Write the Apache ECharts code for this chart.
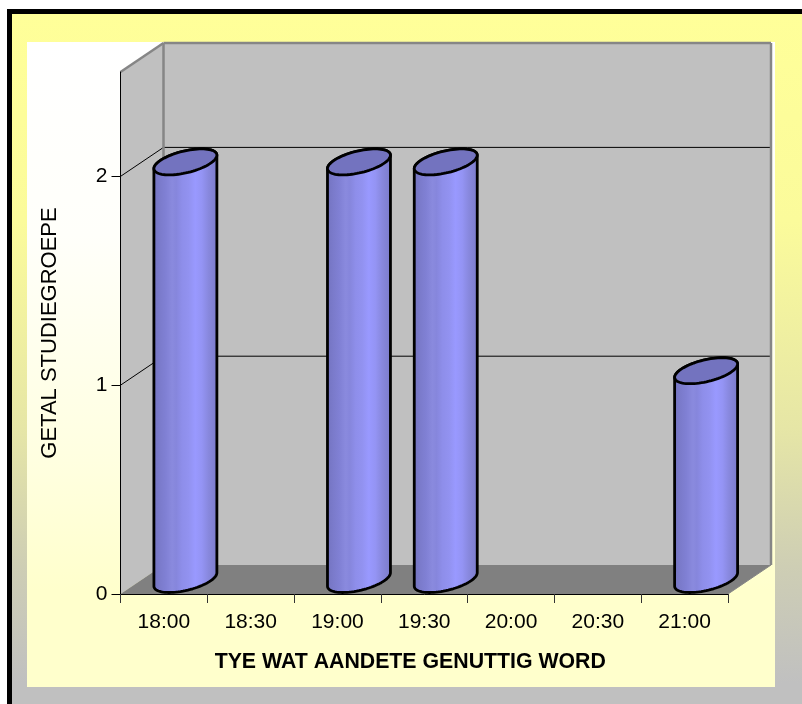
<!DOCTYPE html>
<html><head><meta charset="utf-8">
<style>html,body{margin:0;padding:0;background:#fff}#c{width:802px;height:704px}</style>
<script src="https://cdn.jsdelivr.net/npm/echarts@6/dist/echarts.min.js"></script>
</head><body><div id="c"></div>
<script>
const categories = ['18:00','18:30','19:00','19:30','20:00','20:30','21:00'];
const groupCounts = [2,0,2,2,0,0,1];
const yTicks = [0,1,2];
const yMax = 2.5;
const xTitle = 'TYE WAT AANDETE GENUTTIG WORD';
const yTitle = 'GETAL STUDIEGROEPE';

const DX = 43, DY = 29;          // 3D depth of the box
const HX = 27, EX = 16.2, EY = 13; // cylinder ellipse vectors
const font = '"Liberation Sans", Arial, sans-serif';
const T0 = Math.atan2(EX, HX);

function ell(cx, cy, t){ return [cx + HX*Math.cos(t) + EX*Math.sin(t), cy - EY*Math.sin(t)]; }

function renderBox(params, api){
  const cs = params.coordSys;
  const L = cs.x, R = cs.x + cs.width, T = cs.y, B = cs.y + cs.height;
  const kids = [];
  const poly = (pts, fill) => ({type:'polygon', shape:{points:pts}, style:{fill:fill, stroke:null}});
  const line = (a,b,c,w) => ({type:'line', shape:{x1:a[0],y1:a[1],x2:b[0],y2:b[1]}, style:{stroke:c,lineWidth:w,fill:null}});
  kids.push(poly([[L+DX,T-DY],[R+DX,T-DY],[R+DX,B-DY],[L+DX,B-DY]], '#C0C0C0'));
  kids.push(poly([[L,T],[L+DX,T-DY],[L+DX,B-DY],[L,B]], '#C0C0C0'));
  kids.push(poly([[L,B],[R,B],[R+DX,B-DY],[L+DX,B-DY]], '#808080'));
  yTicks.forEach(v => {
    if (v === 0) return;
    const y = api.coord([0, v])[1];
    kids.push(line([L,y],[L+DX,y-DY],'#000',1));
    kids.push(line([L+DX,y-DY],[R+DX,y-DY],'#000',1));
  });
  const g = '#868686';
  kids.push(line([L,T],[L+DX,T-DY],g,2.5));
  kids.push(line([L+DX,T-DY],[R+DX,T-DY],g,2.5));
  kids.push(line([L+DX,T-DY],[L+DX,B-DY],g,2.5));
  kids.push(line([R+DX,T-DY],[R+DX,B-DY],g,2.5));
  kids.push(line([R,B],[R+DX,B-DY],g,1));
  return {type:'group', children:kids};
}

function renderCyl(params, api){
  const v = api.value(1);
  if (!v) return {type:'group', children:[]};
  const top = api.coord([api.value(0), v]);
  const bot = api.coord([api.value(0), 0]);
  const cx = top[0] + DX/2, ct = top[1] - DY/2, cb = bot[1] - DY/2;
  const body = [], lid = [];
  const N = 40;
  for (let i=0;i<=N;i++){ body.push(ell(cx, ct, T0 + Math.PI*i/N)); }
  for (let i=0;i<=N;i++){ body.push(ell(cx, cb, T0 + Math.PI + Math.PI*i/N)); }
  for (let i=0;i<2*N;i++){ lid.push(ell(cx, ct, Math.PI*i/N)); }
  return {type:'group', children:[
    {type:'polygon', shape:{points:body}, style:{
      stroke:'#000', lineWidth:2.8, lineJoin:'round',
      fill:{type:'linear',x:0,y:0,x2:1,y2:0,colorStops:[
        {offset:0,color:'#7272BE'},{offset:.1,color:'#7A7ACA'},{offset:.2,color:'#8080D4'},{offset:.3,color:'#8A8ADE'},
        {offset:.36,color:'#8686DC'},{offset:.45,color:'#8E8EEA'},{offset:.55,color:'#9292F0'},
        {offset:.65,color:'#9999FF'},{offset:.75,color:'#9494F4'},{offset:.85,color:'#8888DE'},{offset:1,color:'#7A7AC8'}]}
    }},
    {type:'polygon', shape:{points:lid}, style:{fill:'#7373BF', stroke:'#000', lineWidth:2.8}}
  ]};
}

const chart = echarts.init(document.getElementById('c'), null, {renderer:'canvas'});
chart.setOption({
  animation:false,
  backgroundColor:'#fff',
  graphic:{elements:[
    {type:'rect', z:-10, silent:true, shape:{x:7,y:9,width:795,height:695}, style:{fill:'#000'}},
    {type:'rect', z:-9, silent:true, shape:{x:12,y:14,width:790,height:690}, style:{fill:{type:'linear',x:0,y:0,x2:0,y2:1,colorStops:[
      {offset:0,color:'#FFFF99'},{offset:.3,color:'#FBFB9B'},{offset:.6,color:'#E6E6A6'},{offset:.8,color:'#CECEB4'},{offset:.97,color:'#C0C0C0'},{offset:1,color:'#C0C0C0'}]}}},
    {type:'rect', z:-8, silent:true, shape:{x:27,y:42,width:748,height:645}, style:{fill:{type:'linear',x:0,y:0,x2:0,y2:1,colorStops:[
      {offset:0,color:'#FFFFFF'},{offset:.3,color:'#FFFFFA'},{offset:.65,color:'#FFFFE0'},{offset:.85,color:'#FFFFCC'},{offset:1,color:'#FFFFCC'}]}}}
  ]},
  grid:{left:120.5, top:72, width:607.5, height:522, containLabel:false},
  xAxis:{type:'category', data:categories, z:10,
    boundaryGap:true,
    axisLine:{lineStyle:{color:'#000',width:1}},
    axisTick:{show:true, alignWithLabel:false, length:9, lineStyle:{color:'#333',width:1}},
    axisLabel:{color:'#000', fontFamily:font, fontSize:21, margin:18, interval:0},
    name:xTitle, nameLocation:'middle', nameGap:58,
    nameTextStyle:{color:'#000', fontFamily:font, fontSize:21.3, fontWeight:'bold', padding:[0,28,0,0]}},
  yAxis:{type:'value', min:0, max:yMax, interval:1, z:10,
    axisLine:{show:true, lineStyle:{color:'#000',width:1}},
    axisTick:{show:true, length:9, customValues:yTicks, lineStyle:{color:'#000',width:1}},
    axisLabel:{color:'#000', fontFamily:font, fontSize:21, margin:13, customValues:yTicks, padding:[4,0,0,0]},
    splitLine:{show:false},
    name:yTitle, nameLocation:'middle', nameGap:60, nameRotate:90,
    nameTextStyle:{color:'#000', fontFamily:font, fontSize:22}},
  tooltip:{show:false}, legend:{show:false},
  series:[
    {type:'custom', z:1, silent:true, clip:false, data:[[0,0]], renderItem:renderBox, encode:{x:0,y:1}},
    {type:'custom', z:3, silent:true, clip:false,
     data:groupCounts.map((v,i)=>[i,v]), renderItem:renderCyl, encode:{x:0,y:1}}
  ]
});
</script></body></html>
